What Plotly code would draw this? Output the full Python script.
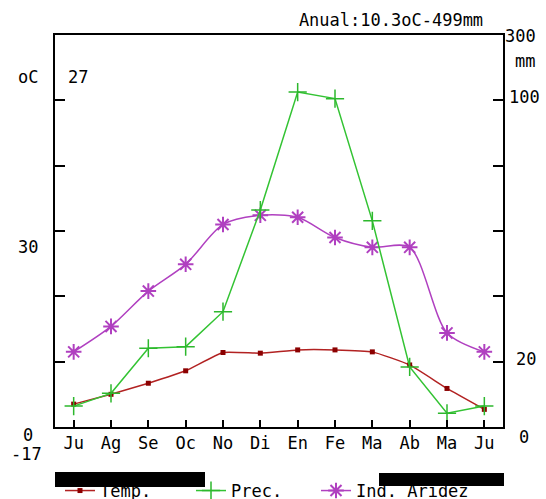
import plotly.graph_objects as go

# ---------------- data ----------------
months = ["Ju", "Ag", "Se", "Oc", "No", "Di", "En", "Fe", "Ma", "Ab", "Ma", "Ju"]
temp_c = [3.5, 5.0, 6.7, 8.6, 11.4, 11.3, 11.8, 11.8, 11.5, 9.5, 5.9, 2.7]
prec_mm = [6.4, 10.3, 24.1, 24.6, 35.3, 66.4, 125.4, 105.2, 63.1, 18.4, 4.2, 6.4]
aridez = [11.5, 15.4, 20.8, 24.9, 31.0, 32.4, 32.1, 29.0, 27.5, 27.5, 14.4, 11.5]
series_names = ["Temp.", "Prec.", "Ind. Aridez"]
title_text = "Anual:10.3oC-499mm"
left_labels = ["oC", "27", "30", "0", "-17"]
right_labels = ["300", "mm", "100", "20", "0"]
right_label_vals = [120, 112, 100, 20, 0]

# Walter-Lieth style: above 100 mm the scale is compressed 10x
prec_plot = [p if p <= 100 else 100 + (p - 100) / 10 for p in prec_mm]

FONT = "DejaVu Sans Mono"
FS = 17
W, H = 546, 499
L, R, T, B = 55, 503, 35, 427


def xp(px):
    return (px - L) / (R - L)


def yp(py):
    return (B - py) / (B - T)


x = list(range(len(months)))

fig = go.Figure()
fig.add_trace(go.Scatter(
    x=x, y=temp_c, name=series_names[0], mode="lines+markers",
    line=dict(color="#b22222", width=1.5, shape="spline", smoothing=0.4),
    marker=dict(symbol="square", size=5, color="#8b0000"),
    yaxis="y", legend="legend"))
fig.add_trace(go.Scatter(
    x=x, y=prec_plot, name=series_names[1], mode="lines+markers",
    line=dict(color="#33c333", width=1.5),
    marker=dict(symbol="cross-thin", size=13, line=dict(color="#2db82d", width=1.5)),
    yaxis="y2", legend="legend2"))
fig.add_trace(go.Scatter(
    x=x, y=aridez, name=series_names[2], mode="lines+markers",
    line=dict(color="#b040c0", width=1.5, shape="spline", smoothing=0.8),
    marker=dict(symbol="asterisk-open", size=13, line=dict(color="#e020e0", width=2)),
    yaxis="y", legend="legend3"))

annotations = []
left_pos = [(27.5, 76.5), (77.5, 76.5), (27.5, 247), (27.5, 434.7), (26.5, 454)]
for txt, (px, py) in zip(left_labels, left_pos):
    annotations.append(dict(text=txt, x=xp(px), y=yp(py), xref="paper", yref="paper",
                            showarrow=False, xanchor="center", yanchor="middle",
                            font=dict(family=FONT, size=FS, color="black")))
right_x = [520, 525, 524.5, 525.5, 524]
right_shift = [-1, 0, 3, 3, -10]
for txt, v, px, sh in zip(right_labels, right_label_vals, right_x, right_shift):
    annotations.append(dict(text=txt, x=xp(px), y=v, xref="paper", yref="y2",
                            yshift=sh, showarrow=False, xanchor="center", yanchor="middle",
                            font=dict(family=FONT, size=FS, color="black")))
# black bars over the legend
for (x0, x1, y0, y1) in [(55, 205, 472, 487), (379, 504, 473, 486)]:
    annotations.append(dict(text=" ", x=xp((x0 + x1) / 2), y=yp((y0 + y1) / 2),
                            xref="paper", yref="paper", showarrow=False,
                            xanchor="center", yanchor="middle",
                            width=x1 - x0, height=y1 - y0, bgcolor="black",
                            borderpad=0, borderwidth=0,
                            font=dict(family=FONT, size=6)))

legend_common = dict(orientation="h", xanchor="left", yanchor="top",
                     font=dict(family=FONT, size=FS), bgcolor="rgba(0,0,0,0)",
                     itemclick=False, itemdoubleclick=False)
legend_y = yp(473)

fig.update_layout(
    width=W, height=H,
    margin=dict(l=L, r=W - R, t=T, b=H - B, autoexpand=False),
    paper_bgcolor="white", plot_bgcolor="white",
    font=dict(family=FONT, size=FS, color="black"),
    title=dict(text=title_text, x=391 / W, xanchor="center", y=1 - 20.5 / H,
               yanchor="middle", xref="container", yref="container",
               font=dict(family=FONT, size=FS, color="black")),
    xaxis=dict(range=[-0.5, 11.5], tickmode="array", tickvals=x, ticktext=months,
               ticks="inside", ticklen=7, tickwidth=1.5, tickcolor="black",
               showline=True, linecolor="black", linewidth=2, mirror=True,
               showgrid=False, zeroline=False, fixedrange=True,
               tickfont=dict(family=FONT, size=FS)),
    yaxis=dict(range=[0, 60], dtick=10, ticks="inside", ticklen=10, tickwidth=1.5,
               tickcolor="black", showticklabels=False, showline=True,
               linecolor="black", linewidth=2, showgrid=False, zeroline=False),
    yaxis2=dict(range=[0, 120], tickmode="array", tickvals=[20, 40, 60, 80, 100],
                ticks="inside", ticklen=10, tickwidth=1.5, tickcolor="black",
                showticklabels=False, showline=True, linecolor="black", linewidth=2,
                showgrid=False, zeroline=False, overlaying="y", side="right"),
    showlegend=True,
    legend=dict(x=xp(60), y=legend_y, **legend_common),
    legend2=dict(x=xp(191), y=legend_y, **legend_common),
    legend3=dict(x=xp(316), y=legend_y, **legend_common),
    annotations=annotations,
)

fig.write_html("out.html")
